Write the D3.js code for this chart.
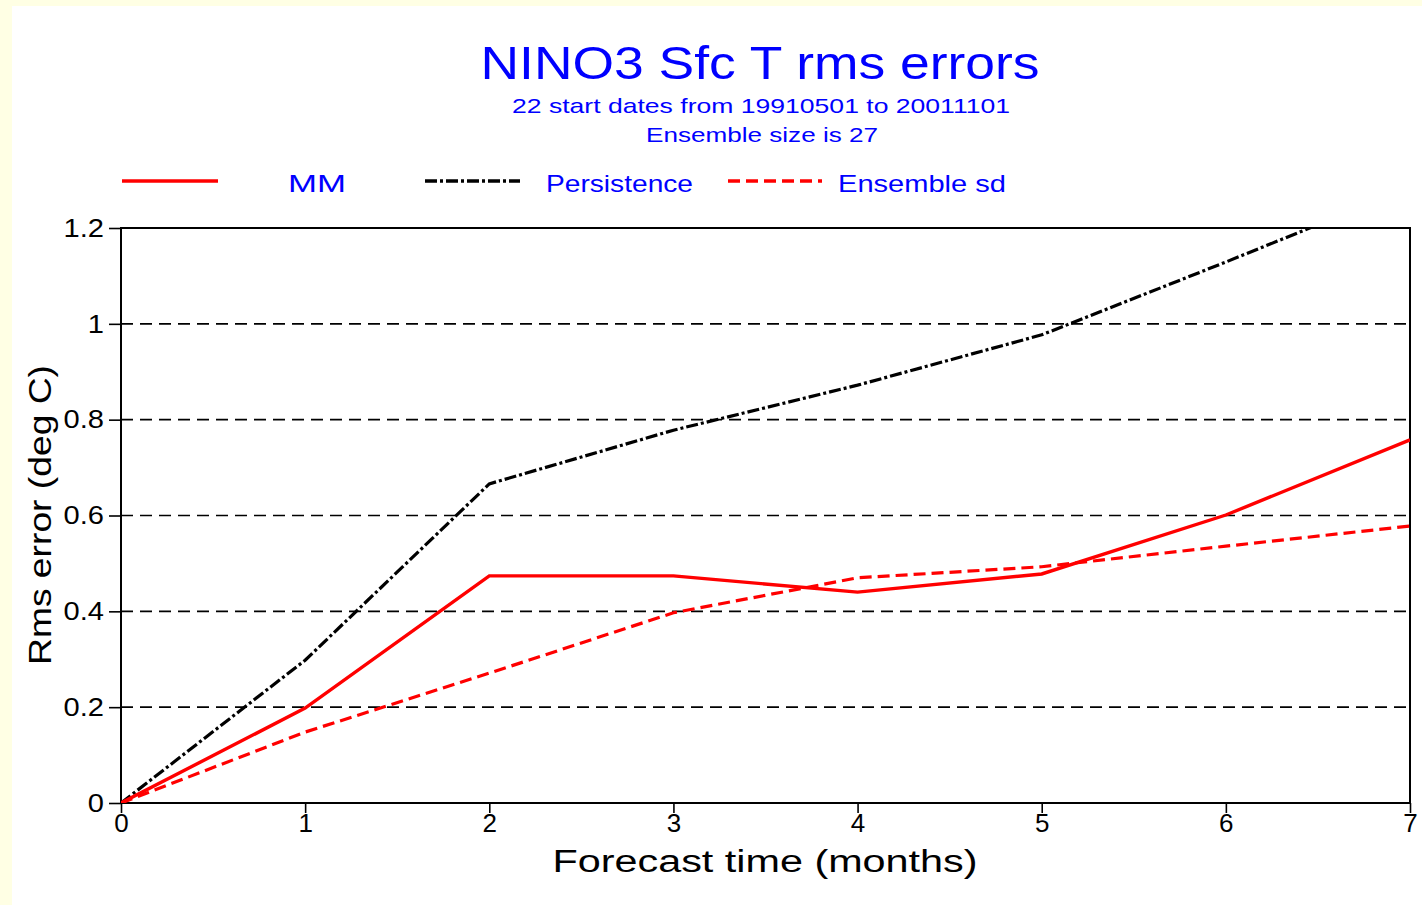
<!DOCTYPE html>
<html><head><meta charset="utf-8">
<script src="https://cdn.jsdelivr.net/npm/d3@7"></script>
<style>html,body{margin:0;padding:0;background:#fff;}svg{display:block;}</style>
</head><body>
<script>
const months = [0, 1, 2, 3, 4, 5, 6, 7];
const mmValues = [0, 0.198, 0.474, 0.474, 0.44, 0.478, 0.601, 0.758];
const persistenceValues = [0, 0.298, 0.666, 0.778, 0.872, 0.977, 1.129, 1.285];
const ensembleSdValues = [0, 0.148, 0.271, 0.397, 0.47, 0.493, 0.536, 0.578];
const yTicks = [0, 0.2, 0.4, 0.6, 0.8, 1, 1.2];
const gridTicks = [0.2, 0.4, 0.6, 0.8, 1];
const titleText = "NINO3 Sfc T rms errors";
const subtitle1 = "22 start dates from 19910501 to 20011101";
const subtitle2 = "Ensemble size is 27";
const xLabel = "Forecast time (months)";
const yLabel = "Rms error (deg C)";

const W = 1422, H = 905;
const svg = d3.select("body").append("svg").attr("width", W).attr("height", H);
svg.append("rect").attr("width", W).attr("height", H).attr("fill", "#ffffe4");
svg.append("rect").attr("x", 12).attr("y", 6).attr("width", W - 12).attr("height", H - 6).attr("fill", "#ffffff");

const L = 121, R = 1410, T = 228, B = 803;
const x = d3.scaleLinear().domain([0, 7]).range([L, R]);
const y = d3.scaleLinear().domain([0, 1.2]).range([B, T]);
const font = "Liberation Sans, Arial, sans-serif";

function fitText(sel, len) { sel.attr("textLength", len).attr("lengthAdjust", "spacingAndGlyphs"); return sel; }
fitText(svg.append("text").attr("x", 760).attr("y", 79).attr("text-anchor", "middle")
  .attr("font-family", font).attr("font-size", 46).attr("fill", "#0000ff").text(titleText), 559);
fitText(svg.append("text").attr("x", 761).attr("y", 113).attr("text-anchor", "middle")
  .attr("font-family", font).attr("font-size", 21).attr("fill", "#0000ff").text(subtitle1), 498);
fitText(svg.append("text").attr("x", 762).attr("y", 142).attr("text-anchor", "middle")
  .attr("font-family", font).attr("font-size", 21).attr("fill", "#0000ff").text(subtitle2), 232);

// Grid lines
svg.append("g").selectAll("line").data(gridTicks).join("line")
  .attr("x1", L).attr("x2", R).attr("y1", d => y(d)).attr("y2", d => y(d))
  .attr("stroke", "#000").attr("stroke-width", 1.6).attr("stroke-dasharray", "12,7");

// Axes
const yAxis = d3.axisLeft(y).tickValues(yTicks).tickSize(12).tickPadding(5).tickFormat(d => d3.format("~g")(d));
const gy = svg.append("g").attr("transform", `translate(${L},0)`).call(yAxis);
gy.select(".domain").remove();
gy.selectAll("line").attr("stroke", "#000").attr("stroke-width", 1.6);
gy.selectAll("text").attr("font-family", font).attr("font-size", 26).attr("fill", "#000")
  .attr("transform", "scale(1.12,1)").attr("x", -17 / 1.12);

const xAxis = d3.axisBottom(x).tickValues(months).tickSize(10).tickPadding(1).tickFormat(d3.format("d"));
const gx = svg.append("g").attr("transform", `translate(0,${B})`).call(xAxis);
gx.select(".domain").remove();
gx.selectAll("line").attr("stroke", "#000").attr("stroke-width", 1.6);
gx.selectAll("text").attr("font-family", font).attr("font-size", 26).attr("fill", "#000");

// Frame
svg.append("rect").attr("x", L).attr("y", T).attr("width", R - L).attr("height", B - T)
  .attr("fill", "none").attr("stroke", "#000").attr("stroke-width", 2);

// Axis labels
fitText(svg.append("text").attr("x", 765).attr("y", 872).attr("text-anchor", "middle")
  .attr("font-family", font).attr("font-size", 31).attr("fill", "#000").text(xLabel), 425);
fitText(svg.append("text").attr("transform", "translate(51,515) rotate(-90)").attr("text-anchor", "middle")
  .attr("font-family", font).attr("font-size", 31).attr("fill", "#000").text(yLabel), 300);

// Clip
svg.append("clipPath").attr("id", "plotclip").append("rect")
  .attr("x", L).attr("y", T).attr("width", R - L).attr("height", B - T);

const series = [
  { name: "Persistence", values: persistenceValues, color: "#000", dash: "12,3,3,3", width: 3.2 },
  { name: "Ensemble sd", values: ensembleSdValues, color: "#ff0000", dash: "12,6", width: 3.2 },
  { name: "MM", values: mmValues, color: "#ff0000", dash: null, width: 3.4 }
];
const line = d3.line().x((d, i) => x(months[i])).y(d => y(d));
const gl = svg.append("g").attr("clip-path", "url(#plotclip)");
series.forEach(s => {
  gl.append("path").datum(s.values).attr("d", line).attr("fill", "none")
    .attr("stroke", s.color).attr("stroke-width", s.width)
    .attr("stroke-dasharray", s.dash).attr("stroke-linejoin", "miter");
});

// Legend
const legend = [
  { name: "MM", color: "#ff0000", dash: null, width: 3.4, x1: 122, x2: 218, tx: 288, tw: 58 },
  { name: "Persistence", color: "#000", dash: "12,3,3,3", width: 3.4, x1: 425, x2: 520, tx: 546, tw: 147 },
  { name: "Ensemble sd", color: "#ff0000", dash: "12,6", width: 3.4, x1: 728, x2: 822, tx: 838, tw: 168 }
];
const lg = svg.append("g");
legend.forEach(d => {
  lg.append("line").attr("x1", d.x1).attr("x2", d.x2).attr("y1", 181).attr("y2", 181)
    .attr("stroke", d.color).attr("stroke-width", d.width).attr("stroke-dasharray", d.dash);
  fitText(lg.append("text").attr("x", d.tx).attr("y", 192).attr("font-family", font)
    .attr("font-size", 24).attr("fill", "#0000ff").text(d.name), d.tw);
});
</script>
</body></html>
